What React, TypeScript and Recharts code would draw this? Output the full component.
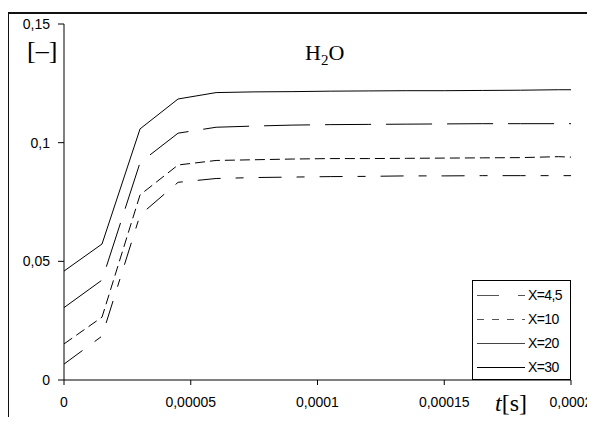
import { LineChart, Line, XAxis, YAxis, Legend } from 'recharts';

// time points [s]
const time = [0, 0.000015, 0.00003, 0.000045, 0.00006, 0.000075, 0.00009, 0.000105, 0.00012, 0.000135, 0.00015, 0.000165, 0.00018, 0.000195, 0.0002];

const x45 = [0.0067, 0.0185, 0.0695, 0.0833, 0.0849, 0.0853, 0.0855, 0.0857, 0.0858, 0.086, 0.086, 0.0861, 0.0861, 0.0861, 0.0861];
const x10 = [0.0152, 0.0265, 0.078, 0.0906, 0.0925, 0.0928, 0.0931, 0.0933, 0.0933, 0.0934, 0.0935, 0.0936, 0.0937, 0.0941, 0.0939];
const x20 = [0.0305, 0.0421, 0.0916, 0.104, 0.1065, 0.107, 0.1074, 0.1076, 0.1077, 0.1078, 0.1079, 0.108, 0.108, 0.108, 0.108];
const x30 = [0.0459, 0.0573, 0.1058, 0.1184, 0.1211, 0.1214, 0.1215, 0.1217, 0.1218, 0.1219, 0.1219, 0.122, 0.1221, 0.1223, 0.1223];

const xTicks = [0, 0.00005, 0.0001, 0.00015, 0.0002];
const xTickLabels = ['0', '0,00005', '0,0001', '0,00015', '0,0002'];
const yTicks = [0, 0.05, 0.1, 0.15];
const yTickLabels = ['0', '0,05', '0,1', '0,15'];

const seriesNames = ['X=4,5', 'X=10', 'X=20', 'X=30'];

const data = time.map((t, i) => ({ t, s0: x45[i], s1: x10[i], s2: x20[i], s3: x30[i] }));

const series = [
  { key: 's0', name: seriesNames[0], dash: '23 15 8 15', legendDash: '22 19 7 100', legendColor: '#555' },
  { key: 's1', name: seriesNames[1], dash: '10 5', legendDash: '7 8', legendColor: '#555' },
  { key: 's2', name: seriesNames[2], dash: '46 15', legendDash: undefined, legendColor: '#444' },
  { key: 's3', name: seriesNames[3], dash: undefined, legendDash: undefined, legendColor: '#000' },
];

const sans = '"Liberation Sans", Arial, sans-serif';
const serif = '"Liberation Serif", "Times New Roman", serif';

const LegendBox = () => (
  <div style={{ width: 99, height: 100, border: '1px solid #000', boxSizing: 'border-box', background: '#fff', fontFamily: sans, fontSize: 14 }}>
    {series.map((s, i) => (
      <div key={s.key} style={{ position: 'absolute', left: 0, top: 15 + i * 24 - 8, height: 16, display: 'flex', alignItems: 'center' }}>
        <svg width={56} height={16}>
          <line x1={5} y1={8.5} x2={53} y2={8.5} stroke={s.legendColor} strokeWidth={1} strokeDasharray={s.legendDash} />
        </svg>
        <span style={{ letterSpacing: -0.6 }}>{s.name}</span>
      </div>
    ))}
  </div>
);

const App = () => {
  return (
    <div style={{ position: 'relative', width: 587, height: 409 }}>
      <style>{'html, body { overflow: hidden; }'}</style>
      <div style={{ position: 'absolute', left: 0, top: 4, width: 587, height: 413, borderTop: '2px solid #111', borderLeft: '1.5px solid #111', boxSizing: 'border-box', pointerEvents: 'none' }} />
      <LineChart width={587} height={409} data={data} margin={{ top: 16, right: 24, left: 6, bottom: 7 }}>
        <XAxis
          dataKey="t"
          type="number"
          domain={[0, 0.0002]}
          ticks={xTicks}
          tickFormatter={(v, i) => xTickLabels[i]}
          height={30}
          tickSize={5}
          tickMargin={12}
          stroke="#000"
          tick={{ fill: '#000', fontSize: 14, fontFamily: sans }}
          interval={0}
        />
        <YAxis
          type="number"
          domain={[0, 0.15]}
          ticks={yTicks}
          tickFormatter={(v, i) => yTickLabels[i]}
          width={50}
          tickSize={6}
          tickMargin={8}
          stroke="#000"
          tick={{ fill: '#000', fontSize: 14, fontFamily: sans }}
          interval={0}
        />
        {series.map((s) => (
          <Line
            key={s.key}
            type="linear"
            dataKey={s.key}
            name={s.name}
            stroke="#000"
            strokeWidth={1}
            strokeDasharray={s.dash}
            dot={false}
            activeDot={false}
            isAnimationActive={false}
          />
        ))}
        <Legend
          layout="vertical"
          align="center"
          verticalAlign="middle"
          wrapperStyle={{ position: 'absolute', left: 464, top: 272, width: 99, height: 100 }}
          content={() => <LegendBox />}
        />
      </LineChart>
      <div style={{ position: 'absolute', left: 19, top: 30, fontFamily: serif, fontSize: 26, lineHeight: 1 }}>[–]</div>
      <div style={{ position: 'absolute', left: 297, top: 34, fontFamily: serif, fontSize: 22, lineHeight: 1 }}>
        H<sub style={{ fontSize: 15, lineHeight: 1 }}>2</sub>O
      </div>
      <div style={{ position: 'absolute', left: 487, top: 383, fontFamily: serif, fontSize: 24, lineHeight: 1 }}>
        <i>t</i>[s]
      </div>
    </div>
  );
};

export default App;
